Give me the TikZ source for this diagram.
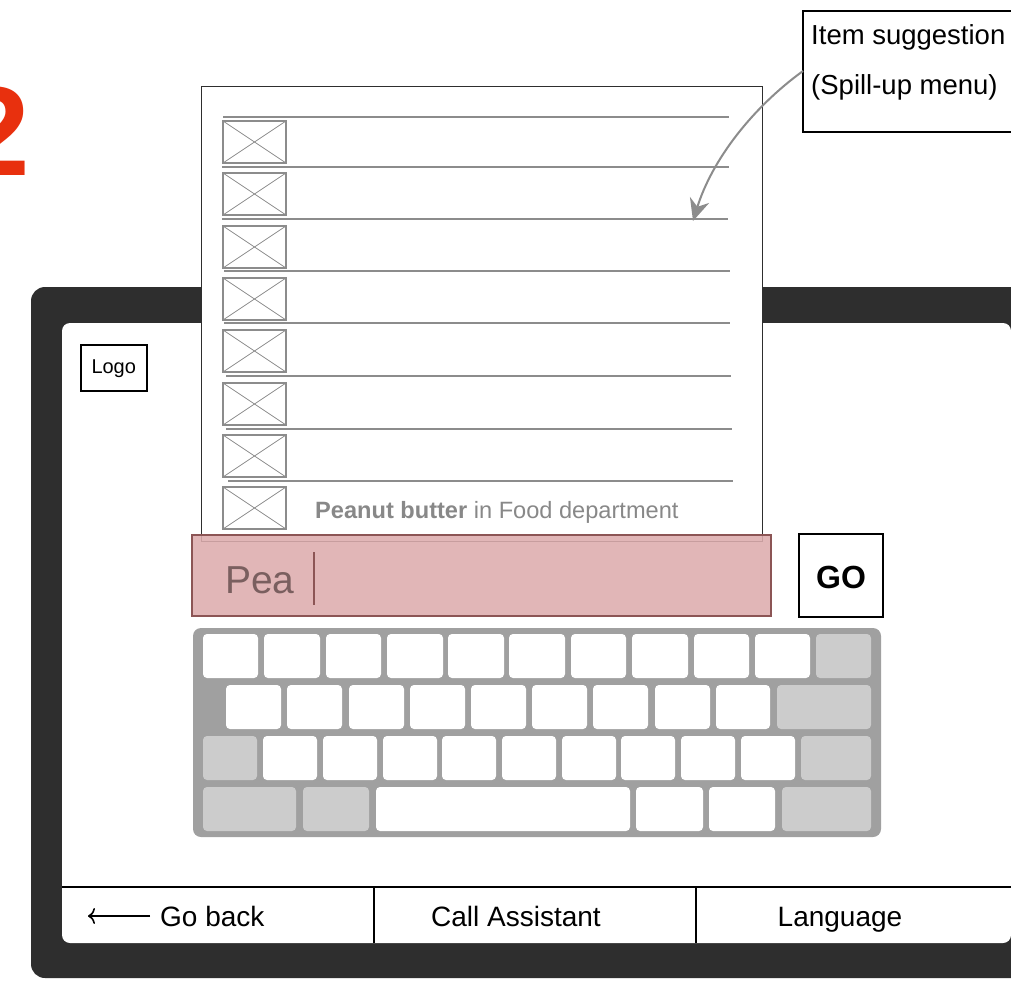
\documentclass[tikz,border=0pt]{standalone}
\usepackage{fontspec}
\setmainfont{Liberation Sans}
\usetikzlibrary{arrows.meta}
\definecolor{framec}{HTML}{2E2E2E}
\definecolor{kbd}{HTML}{A0A0A0}
\definecolor{gkey}{HTML}{CCCCCC}
\definecolor{pinkf}{HTML}{DDADAE}
\definecolor{pinkd}{HTML}{8C5555}
\definecolor{peac}{HTML}{7A5F5F}
\definecolor{lgray}{HTML}{8C8C8C}
\definecolor{tgray}{HTML}{888888}
\definecolor{redtwo}{HTML}{E8300E}
\tikzset{
  fs/.style={font=\fontsize{#1}{#1}\selectfont},
  wkey/.style={fill=white, rounded corners=4pt},
  gk/.style={fill=gkey, rounded corners=4pt},
  icon/.style={draw=lgray, line width=1.5pt},
  sep/.style={draw=lgray, line width=1.3pt},
  barlabel/.style={fs=28, anchor=base, inner sep=0pt},
}
\begin{document}
\begin{tikzpicture}[x=1pt,y=-1pt]
\useasboundingbox (0,0) rectangle (1011,980);
\clip (0,0) rectangle (1011,980);
\fill[white] (0,0) rectangle (1011,980);

% red number
\node[anchor=base west, inner sep=0pt, text=redtwo, font=\fontsize{127}{127}\selectfont\bfseries] (two) at (-41,175) {2};

% tablet frame
\fill[framec, rounded corners=14pt] (31,287) rectangle (1060,978);
\fill[white, rounded corners=8pt] (62,323) rectangle (1011,943);

% logo
\node[draw, line width=1.5pt, minimum width=66pt, minimum height=46pt, anchor=north west, inner sep=0pt] (logo) at (80,344) {};
\node[fs=20, anchor=base, inner sep=0pt] (logotxt) at (logo.center |- 0,373) {Logo};

% bottom bar
\coordinate (barL) at (62,887);
\coordinate (barR) at (1011,887);
\draw[line width=2pt] (barL) -- (barR);
\coordinate (d1t) at (374,887); \coordinate (d1b) at (374,943);
\coordinate (d2t) at (696,887); \coordinate (d2b) at (696,943);
\draw[line width=2pt] (d1t) -- (d1b);
\draw[line width=2pt] (d2t) -- (d2b);
\coordinate (arrS) at (150,916);
\coordinate (arrE) at (88,916);
\draw[line width=1.6pt, -{To[length=7pt,width=16pt]}] (arrS) -- (arrE);
\node[barlabel, anchor=base west] (back) at (160,926) {Go back};
\node[barlabel] (assist) at (516,926) {Call Assistant};
\node[barlabel] (lang) at (840,926) {Language};

% keyboard
\fill[kbd, rounded corners=8pt] (193,628) rectangle (881,837);
\foreach \a/\b in {203/258,264/320,326/381,387/443,448/504,509/565,571/626,632/688,694/749,755/810}
  \path[wkey] (\a,634) rectangle (\b,678);
\path[gk] (816,634) rectangle (871,678);
\foreach \a/\b in {226/281,287/342,349/404,410/465,471/526,532/587,593/648,655/710,716/770}
  \path[wkey] (\a,685) rectangle (\b,729);
\path[gk] (777,685) rectangle (871,729);
\path[gk] (203,736) rectangle (257,780);
\foreach \a/\b in {263/317,323/377,383/437,442/496,502/556,562/616,621/675,681/735,741/795}
  \path[wkey] (\a,736) rectangle (\b,780);
\path[gk] (801,736) rectangle (871,780);
\path[gk] (203,787) rectangle (296,831);
\path[gk] (303,787) rectangle (369,831);
\path[wkey] (376,787) rectangle (630,831);
\path[wkey] (636,787) rectangle (703,831);
\path[wkey] (709,787) rectangle (775,831);
\path[gk] (782,787) rectangle (871,831);

% spill-up menu
\node[draw=framec, line width=1pt, fill=white, minimum width=561pt, minimum height=455pt, anchor=north west, inner sep=0pt] (menu) at (201,86) {};
\foreach \y/\a/\b in {117/223/729,167/222/729,219/222/728,271/224/730,323/224/730,376/226/731,429/226/732,481/228/733}
  \draw[sep] (\a,\y) -- (\b,\y);
\foreach \y in {121,173,226,278,330,383,435,487}{
  \draw[icon] (223,\y) rectangle (286,\y+42);
  \draw[lgray, line width=0.8pt] (223,\y) -- (286,\y+42) (223,\y+42) -- (286,\y);
}
\node[fs=23.6, anchor=base west, inner sep=0pt, text=tgray] (item) at (315,518) {\textbf{Peanut butter} in Food department};

% search field
\node[draw=pinkd, line width=2pt, fill=pinkf, fill opacity=0.88, minimum width=579pt, minimum height=81pt, anchor=north west, inner sep=0pt] (search) at (191,534) {};
\node[fs=39, anchor=base west, inner sep=0pt, text=peac] (pea) at (225,593) {Pea};
\coordinate (curT) at (314,552);
\coordinate (curB) at (314,605);
\draw[pinkd, line width=2pt] (curT) -- (curB);

% GO button
\node[draw, line width=2pt, minimum width=84pt, minimum height=83pt, anchor=north west, inner sep=0pt] (go) at (798,533) {};
\node[anchor=base, inner sep=0pt, font=\fontsize{32}{32}\selectfont\bfseries] (gotxt) at (841,588) {GO};

% callout
\coordinate (callout) at (803,71);
\draw[fill=white, line width=2.5pt] (803,11) rectangle (1040,132);
\node[fs=27.5, anchor=base west, inner sep=0pt] (c1) at (811,44) {Item suggestion};
\node[fs=27.5, anchor=base west, inner sep=0pt] (c2) at (811,94) {(Spill-up menu)};
\coordinate (tip) at (693,221);
\draw[lgray, line width=2pt, -{Stealth[length=22pt,width=20pt]}] (callout) .. controls (752,108) and (712,160) .. (tip);
\end{tikzpicture}
\end{document}
